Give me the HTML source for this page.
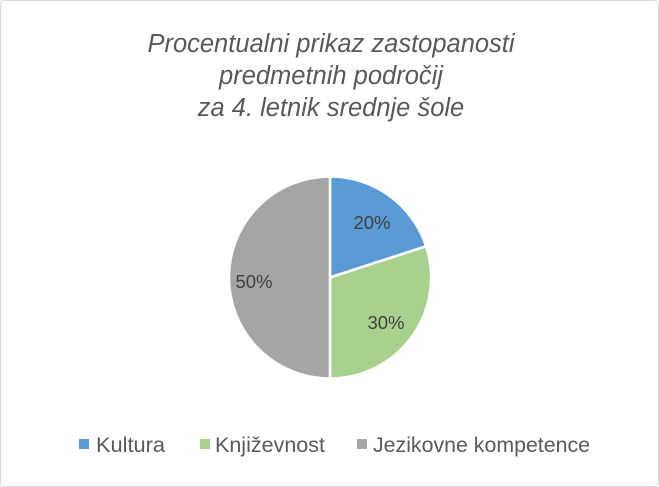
<!DOCTYPE html>
<html><head><meta charset="utf-8"><style>
html,body{margin:0;padding:0;background:#fff;}
svg{display:block;}
</style></head><body>
<svg width="659" height="487" viewBox="0 0 659 487" xmlns="http://www.w3.org/2000/svg" font-family="'Liberation Sans', sans-serif">
<rect x="0.5" y="0.5" width="658" height="486" rx="4" fill="#fff" stroke="#d9d9d9"/>
<g font-style="italic" font-size="25.5" fill="#595959" text-anchor="middle">
<text x="331" y="52">Procentualni prikaz zastopanosti</text>
<text x="331" y="84">predmetnih področij</text>
<text x="331" y="116">za 4. letnik srednje šole</text>
</g>
<g stroke="#fff" stroke-width="2.5" stroke-linejoin="round">
<path d="M330,277.5 L330,176.5 A101,101 0 0,1 426.1,246.3 Z" fill="#5b9bd5"/>
<path d="M330,277.5 L426.1,246.3 A101,101 0 0,1 330,378.5 Z" fill="#a9d18e"/>
<path d="M330,277.5 L330,378.5 A101,101 0 0,1 330,176.5 Z" fill="#a5a5a5"/>
</g>
<g font-size="18.5" fill="#404040" text-anchor="middle">
<text x="372" y="229">20%</text>
<text x="386" y="329">30%</text>
<text x="254" y="288">50%</text>
</g>
<g font-size="21" fill="#595959">
<rect x="79" y="439" width="10" height="10" fill="#5b9bd5"/>
<text x="96" y="452" textLength="69" lengthAdjust="spacingAndGlyphs">Kultura</text>
<rect x="200" y="439" width="10" height="10" fill="#a9d18e"/>
<text x="215" y="452" textLength="110" lengthAdjust="spacingAndGlyphs">Književnost</text>
<rect x="357" y="439" width="10" height="10" fill="#a5a5a5"/>
<text x="373" y="452" textLength="217" lengthAdjust="spacingAndGlyphs">Jezikovne kompetence</text>
</g>
</svg>
</body></html>
